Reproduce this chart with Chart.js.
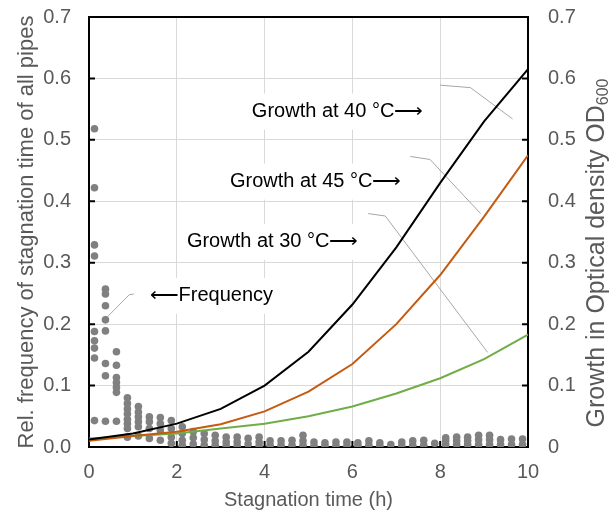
<!DOCTYPE html>
<html>
<head>
<meta charset="utf-8">
<script src="https://cdn.jsdelivr.net/npm/chart.js@4"></script>
<style>body{margin:0;background:#fff}</style>
</head>
<body>
<canvas id="chart" width="611" height="515"></canvas>
<script>
// growth curves (right axis, OD600)
const growthTimes = [0, 1, 2, 3, 4, 5, 6, 7, 8, 9, 10];
const growth40 = [0.012, 0.022, 0.038, 0.062, 0.100, 0.155, 0.232, 0.325, 0.430, 0.530, 0.615];
const growth45 = [0.010, 0.018, 0.025, 0.037, 0.058, 0.090, 0.135, 0.200, 0.280, 0.375, 0.475];
const growth30 = [0.014, 0.018, 0.022, 0.030, 0.038, 0.050, 0.066, 0.087, 0.112, 0.143, 0.183];

// relative frequency of stagnation time, one column every 15 min
const freqTimes = [0.125, 0.375, 0.625, 0.875, 1.125, 1.375, 1.625, 1.875, 2.125, 2.375,
    2.625, 2.875, 3.125, 3.375, 3.625, 3.875, 4.125, 4.375, 4.625, 4.875,
    5.125, 5.375, 5.625, 5.875, 6.125, 6.375, 6.625, 6.875, 7.125, 7.375,
    7.625, 7.875, 8.125, 8.375, 8.625, 8.875, 9.125, 9.375, 9.625, 9.875];
const freqValues = [
    [0.518, 0.422, 0.329, 0.311, 0.188, 0.173, 0.161, 0.145, 0.043],
    [0.257, 0.249, 0.230, 0.207, 0.189, 0.136, 0.116, 0.042],
    [0.155, 0.133, 0.113, 0.105, 0.097, 0.089, 0.042],
    [0.080, 0.071, 0.062, 0.054, 0.045, 0.038, 0.030, 0.016],
    [0.066, 0.057, 0.049, 0.041, 0.033, 0.018],
    [0.049, 0.041, 0.030, 0.014],
    [0.048, 0.038, 0.027, 0.011],
    [0.043, 0.030, 0.016, 0.006],
    [0.033, 0.022, 0.011, 0.003],
    [0.025, 0.015, 0.005],
    [0.022, 0.012, 0.003],
    [0.019, 0.010, 0.003],
    [0.016, 0.008, 0.002],
    [0.016, 0.008, 0.002],
    [0.014, 0.005],
    [0.016, 0.008, 0.002],
    [0.010, 0.003],
    [0.010, 0.003],
    [0.011, 0.003],
    [0.019, 0.010, 0.003],
    [0.008, 0.002],
    [0.007, 0.002],
    [0.008, 0.002],
    [0.008, 0.002],
    [0.007, 0.002],
    [0.010, 0.003],
    [0.007, 0.002],
    [0.004],
    [0.008, 0.002],
    [0.010, 0.003],
    [0.011, 0.003],
    [0.006],
    [0.015, 0.010, 0.004],
    [0.016, 0.010, 0.004],
    [0.016, 0.010, 0.004],
    [0.019, 0.012, 0.004],
    [0.019, 0.012, 0.004],
    [0.012, 0.004],
    [0.013, 0.004],
    [0.013, 0.004]
];

const xTicks = [0, 2, 4, 6, 8, 10];

// text labels with leader lines, in data units
const notes = [
    {text: "Growth at 40 °C⟶", x: 3.71, y: 0.546, leader: [[8.0, 0.589], [8.69, 0.585], [9.65, 0.534]]},
    {text: "Growth at 45 °C⟶", x: 3.21, y: 0.432, leader: [[7.32, 0.473], [7.77, 0.468], [8.92, 0.380]]},
    {text: "Growth at 30 °C⟶", x: 2.23, y: 0.334, leader: [[6.36, 0.380], [6.75, 0.376], [9.08, 0.154]]},
    {text: "⟵Frequency", x: 1.38, y: 0.246, leader: [[1.02, 0.249], [0.92, 0.248], [0.42, 0.212]]}
];

const FONT = "'Liberation Sans', Arial, sans-serif";
const GREY = "#595959";

const freqPoints = [];
freqTimes.forEach((t, i) => {
    freqValues[i].forEach(v => freqPoints.push({x: t, y: v}));
});

const line = (data, color, label) => ({
    type: "line",
    label: label,
    data: growthTimes.map((t, i) => ({x: t, y: data[i]})),
    borderColor: color,
    borderWidth: 2,
    pointRadius: 0,
    fill: false,
    tension: 0,
    yAxisID: "y2",
    order: 0,
});

// vertical axes: fixed width, no extra top/bottom padding from the tick labels
const fitVertical = width => s => {
    s.width = width;
    s.paddingTop = 0;
    s.paddingBottom = 0;
};

const decorPlugin = {
    id: "decor",
    beforeDatasetsDraw(chart) {
        const {ctx, chartArea: a, scales} = chart;
        const sx = scales.x, sy = scales.y;
        ctx.save();
        // inward tick marks and top frame
        ctx.strokeStyle = "#000";
        ctx.lineWidth = 2;
        ctx.beginPath();
        ctx.moveTo(a.left, a.top);
        ctx.lineTo(a.right, a.top);
        for (let v = 0; v <= 7; v++) {
            const py = sy.getPixelForValue(v / 10);
            ctx.moveTo(a.left, py); ctx.lineTo(a.left + 6, py);
            ctx.moveTo(a.right, py); ctx.lineTo(a.right - 6, py);
        }
        xTicks.forEach(t => {
            const px = sx.getPixelForValue(t);
            ctx.moveTo(px, a.bottom); ctx.lineTo(px, a.bottom - 6);
        });
        ctx.stroke();

        // annotation boxes, text and leaders
        ctx.font = "20px " + FONT;
        ctx.textBaseline = "middle";
        notes.forEach(n => {
            const px = sx.getPixelForValue(n.x);
            const py = sy.getPixelForValue(n.y);
            const w = ctx.measureText(n.text).width;
            ctx.fillStyle = "#fff";
            ctx.fillRect(px - 7, py - 18, w + 14, 36);
            ctx.fillStyle = "#000";
            ctx.fillText(n.text, px, py);
            ctx.strokeStyle = "#a6a6a6";
            ctx.lineWidth = 1;
            ctx.beginPath();
            n.leader.forEach((p, k) => {
                const lx = sx.getPixelForValue(p[0]);
                const ly = sy.getPixelForValue(p[1]);
                if (k === 0) ctx.moveTo(lx, ly); else ctx.lineTo(lx, ly);
            });
            ctx.stroke();
        });
        ctx.restore();
    },
    afterDraw(chart) {
        const {ctx} = chart;
        ctx.save();
        ctx.translate(597, 253);
        ctx.rotate(-Math.PI / 2);
        ctx.fillStyle = GREY;
        ctx.textBaseline = "middle";
        ctx.font = "25px " + FONT;
        const main = "Growth in Optical density OD";
        const w1 = ctx.measureText(main).width;
        ctx.font = "16px " + FONT;
        const w2 = ctx.measureText("600").width;
        const start = -(w1 + w2) / 2;
        ctx.font = "25px " + FONT;
        ctx.fillText(main, start, 0);
        ctx.font = "16px " + FONT;
        ctx.fillText("600", start + w1, 7);
        ctx.restore();
    }
};

new Chart(document.getElementById("chart"), {
    type: "scatter",
    data: {
        datasets: [
            line(growth40, "#000000", "Growth at 40 °C"),
            line(growth45, "#c55a11", "Growth at 45 °C"),
            line(growth30, "#70ad47", "Growth at 30 °C"),
            {
                label: "Frequency",
                data: freqPoints,
                backgroundColor: "#808080",
                borderWidth: 0,
                pointRadius: 3.8,
                yAxisID: "y",
                order: 1,
            },
        ],
    },
    options: {
        responsive: false,
        devicePixelRatio: 1,
        animation: false,
        layout: {padding: {top: 17, left: 0, right: 0, bottom: 0}},
        plugins: {
            legend: {display: false},
            tooltip: {enabled: false},
        },
        scales: {
            x: {
                type: "linear",
                min: 0,
                max: 10,
                afterBuildTicks: s => { s.ticks = xTicks.map(v => ({value: v})); },
                afterFit: s => { s.height = 68; },
                ticks: {color: GREY, font: {size: 20, family: FONT}, padding: 13},
                grid: {color: "#d9d9d9", lineWidth: 1, drawTicks: false},
                border: {color: "#000", width: 2},
                title: {display: true, text: "Stagnation time (h)", color: GREY,
                    font: {size: 20, family: FONT}, padding: {top: 0, bottom: 3}},
            },
            y: {
                position: "left",
                min: 0,
                max: 0.7,
                ticks: {stepSize: 0.1, color: GREY, font: {size: 20, family: FONT}, padding: 18,
                    callback: v => v.toFixed(1)},
                afterFit: fitVertical(89),
                grid: {color: "#d9d9d9", lineWidth: 1, drawTicks: false},
                border: {color: "#000", width: 2},
                title: {display: true, text: "Rel. frequency of stagnation time of all pipes", color: GREY,
                    font: {size: 22, family: FONT}, padding: {top: 14, bottom: 0}},
            },
            y2: {
                position: "right",
                min: 0,
                max: 0.7,
                ticks: {stepSize: 0.1, color: GREY, font: {size: 20, family: FONT}, padding: 20,
                    callback: v => (Math.abs(v) < 1e-9 ? "0" : v.toFixed(1))},
                afterFit: fitVertical(83),
                grid: {drawOnChartArea: false, drawTicks: false},
                border: {color: "#000", width: 2},
            },
        },
    },
    plugins: [decorPlugin],
});
</script>
</body>
</html>
